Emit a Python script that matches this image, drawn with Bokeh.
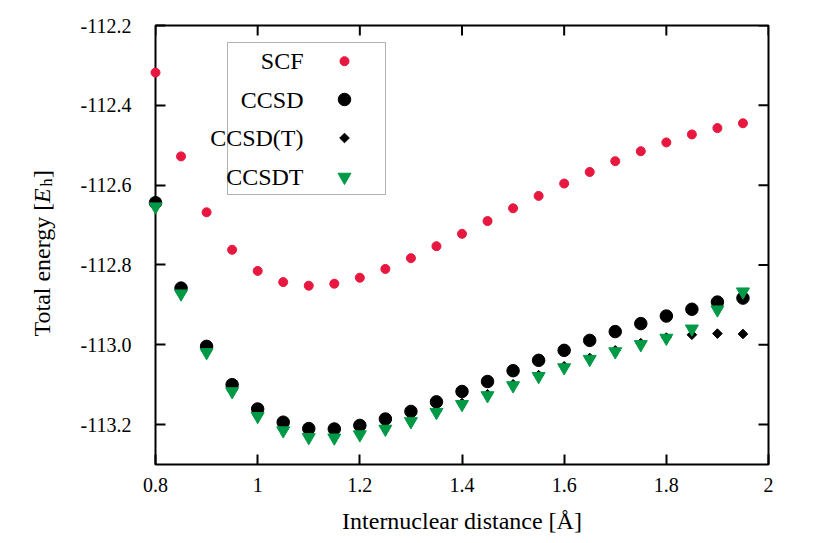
import numpy as np
from bokeh.plotting import figure
from bokeh.models import Range1d, FixedTicker, Label, BoxAnnotation
from bokeh.core.properties import value
from bokeh.embed import file_html
from bokeh.resources import INLINE

# ---------------- data ----------------
r = [0.80, 0.85, 0.90, 0.95, 1.00, 1.05, 1.10, 1.15, 1.20, 1.25, 1.30, 1.35,
     1.40, 1.45, 1.50, 1.55, 1.60, 1.65, 1.70, 1.75, 1.80, 1.85, 1.90, 1.95]

scf = [-112.318, -112.528, -112.668, -112.762, -112.815, -112.843, -112.852, -112.847,
       -112.832, -112.810, -112.783, -112.753, -112.722, -112.690, -112.658, -112.627,
       -112.596, -112.567, -112.540, -112.515, -112.493, -112.473, -112.457, -112.445]

ccsd = [-112.644, -112.858, -113.004, -113.100, -113.161, -113.194, -113.210, -113.211,
        -113.202, -113.186, -113.167, -113.143, -113.117, -113.092, -113.065, -113.039,
        -113.014, -112.989, -112.967, -112.947, -112.928, -112.911, -112.893, -112.883]

ccsd_t = [-112.651, -112.869, -113.016, -113.114, -113.176, -113.212, -113.229, -113.230,
          -113.222, -113.208, -113.189, -113.166, -113.146, -113.124, -113.099, -113.076,
          -113.054, -113.033, -113.014, -112.996, -112.982, -112.975, -112.972, -112.973]

ccsdt = [-112.654, -112.872, -113.019, -113.117, -113.179, -113.215, -113.232, -113.233,
         -113.225, -113.211, -113.192, -113.169, -113.149, -113.127, -113.102, -113.079,
         -113.057, -113.036, -113.017, -112.999, -112.983, -112.960, -112.912, -112.867]

series_names = ["SCF", "CCSD", "CCSD(T)", "CCSDT"]

x_ticks = [0.8, 1.0, 1.2, 1.4, 1.6, 1.8, 2.0]
x_tick_labels = ["0.8", "1", "1.2", "1.4", "1.6", "1.8", "2"]
y_ticks = [-113.2, -113.0, -112.8, -112.6, -112.4, -112.2]
y_tick_labels = ["-113.2", "-113.0", "-112.8", "-112.6", "-112.4", "-112.2"]

x_title = "Internuclear distance [Å]"

# ---------------- layout ----------------
W, H = 806, 540
FL, FT = 155, 25
FR = W - 768
FB = H - 464
X0, X1 = 0.8, 2.0
Y0, Y1 = -113.3, -112.2
FW = W - FL - FR
FH = H - FT - FB
FONT = "Liberation Serif"
RED = "#e8173f"
GREEN = "#009a46"
TICK_LEN = 10


def dx(px):
    """canvas pixel x -> data x"""
    return X0 + (px - FL) / FW * (X1 - X0)


def dy(py):
    """canvas pixel y -> data y"""
    return Y1 - (py - FT) / FH * (Y1 - Y0)


p = figure(width=W, height=H, x_range=Range1d(X0, X1), y_range=Range1d(Y0, Y1),
           output_backend="svg", toolbar_location=None,
           min_border_left=FL, min_border_right=FR, min_border_top=FT, min_border_bottom=FB)
p.xgrid.visible = False
p.ygrid.visible = False
p.outline_line_color = "black"
p.outline_line_width = 2
p.background_fill_color = "white"
p.border_fill_color = "white"


def style_axis(ax, ticks, labels, standoff):
    ax.ticker = FixedTicker(ticks=ticks)
    ax.major_label_overrides = {t: l for t, l in zip(ticks, labels)}
    ax.axis_line_color = None
    ax.major_tick_in = TICK_LEN
    ax.major_tick_out = 0
    ax.major_tick_line_width = 2
    ax.major_tick_line_color = "black"
    ax.minor_tick_line_color = None
    ax.major_label_text_font = FONT
    ax.major_label_text_font_size = "20px"
    ax.major_label_text_color = "black"
    ax.major_label_standoff = standoff


style_axis(p.xaxis[0], x_ticks, x_tick_labels, standoff=13)
style_axis(p.yaxis[0], y_ticks, y_tick_labels, standoff=24)
p.xaxis[0].axis_label = x_title
p.xaxis[0].axis_label_text_font = FONT
p.xaxis[0].axis_label_text_font_size = "24px"
p.xaxis[0].axis_label_text_font_style = "normal"
p.xaxis[0].axis_label_text_color = "black"
p.xaxis[0].axis_label_standoff = 13

# mirrored inward ticks on the top and right edges of the frame
tl_y = TICK_LEN / FH * (Y1 - Y0)
tl_x = TICK_LEN / FW * (X1 - X0)
p.segment(x0=x_ticks, y0=[Y1] * len(x_ticks), x1=x_ticks, y1=[Y1 - tl_y] * len(x_ticks),
          line_color="black", line_width=2)
p.segment(x0=[X1] * len(y_ticks), y0=y_ticks, x1=[X1 - tl_x] * len(y_ticks), y1=y_ticks,
          line_color="black", line_width=2)

# ---------------- data marks ----------------
p.scatter(r, scf, marker="circle", size=9, fill_color=RED, line_color=RED, level="overlay")
p.scatter(r, ccsd, marker="circle", size=12.5, fill_color="black", line_color="black", level="overlay")
p.scatter(r, ccsd_t, marker="square", angle=np.pi / 4, size=6.8, fill_color="black",
          line_color="black", level="overlay")
p.scatter(r, ccsdt, marker="inverted_triangle", size=13, fill_color=GREEN, line_color=GREEN,
          level="overlay")

# ---------------- legend (text right-aligned, sample on the right) ----------------
p.add_layout(BoxAnnotation(left=dx(227), right=dx(385), top=dy(42), bottom=dy(194),
                           fill_alpha=0, line_color="black", line_width=1))
row_py = [60.7, 99.0, 137.5, 176.5]
marker_specs = [("circle", 9, RED, 0), ("circle", 12.5, "black", 0),
                ("square", 6.8, "black", np.pi / 4), ("inverted_triangle", 13, GREEN, 0)]
for name, py, (mk, sz, col, ang) in zip(series_names, row_py, marker_specs):
    p.add_layout(Label(x=dx(303), y=dy(py), text=name, text_align="right",
                       text_baseline="middle", text_font=FONT, text_font_size="24px",
                       text_color="black"))
    p.scatter([dx(344)], [dy(py)], marker=mk, size=sz, angle=ang, fill_color=col,
              line_color=col, level="overlay")

# ---------------- y-axis title with italic E and subscript h ----------------
base_px = 41.0
pieces = [("Total energy [", 336.0, "normal", "24px", 0.0),
          ("E", 202.5, "italic", "24px", 0.0),
          ("h", 186.0, "normal", "16px", 5.0),
          ("]", 177.5, "normal", "24px", 0.0)]
for txt, py, style, size, shift in pieces:
    p.text(x=[dx(base_px + shift)], y=[dy(py)], text=[txt], angle=np.pi / 2,
           text_align="left", text_baseline="alphabetic", text_font=value(FONT),
           text_font_size=value(size), text_font_style=style, text_color="black",
           level="overlay")

open("out.html", "w").write(file_html(p, INLINE))
